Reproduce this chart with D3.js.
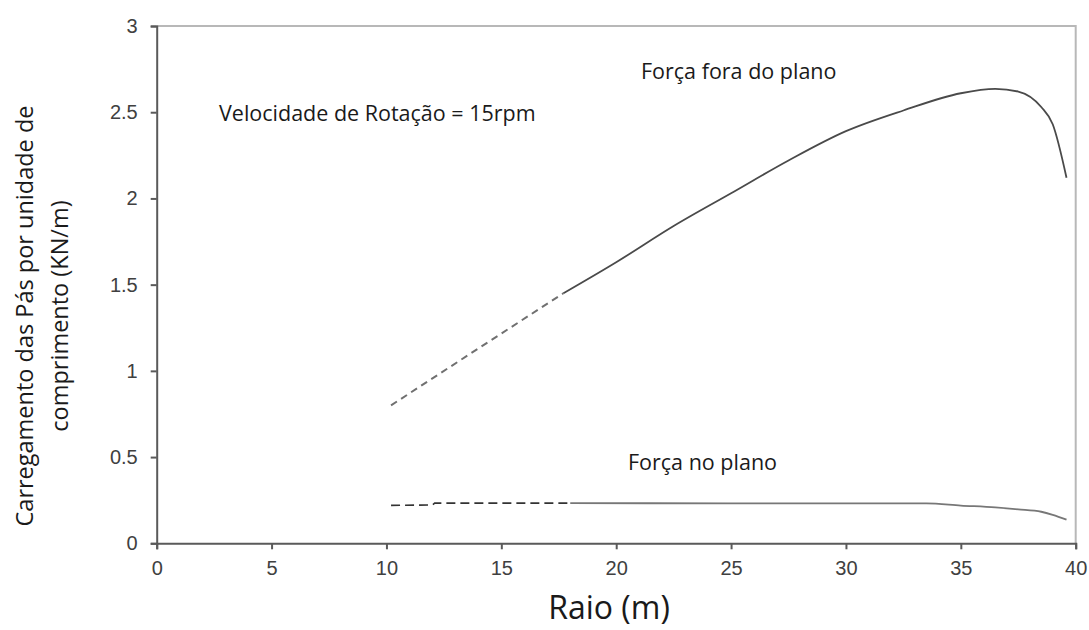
<!DOCTYPE html>
<html>
<head>
<meta charset="utf-8">
<script src="https://cdn.jsdelivr.net/npm/d3@7"></script>
<style>
  body { margin: 0; background: #fff; }
  svg { display: block; }
</style>
</head>
<body>
<div id="chart"></div>
<script>
// raio (m) / carregamento (KN/m)
var foraDashX = [10.2, 14, 17.7];
var foraDashY = [0.80, 1.13, 1.45];
var foraX = [17.7, 20, 22.5, 25, 27.5, 30, 32.5, 35, 36.5, 37.5, 38.5, 39, 39.6];
var foraY = [1.45, 1.63, 1.84, 2.03, 2.22, 2.39, 2.51, 2.61, 2.635, 2.62, 2.53, 2.43, 2.12];

var noDashX = [10.2, 12.0, 12.1, 18];
var noDashY = [0.22, 0.222, 0.233, 0.233];
var noX = [18, 25, 30, 33.5, 35, 36.5, 37.5, 38.5, 39, 39.6];
var noY = [0.233, 0.232, 0.232, 0.231, 0.219, 0.208, 0.197, 0.183, 0.165, 0.137];

var xTicks = [0, 5, 10, 15, 20, 25, 30, 35, 40];
var yTicks = [0, 0.5, 1, 1.5, 2, 2.5, 3];

var W = 1089, H = 630;
var mLeft = 156.7, mRight = 1075.7, mTop = 26, mBottom = 543.3;

var svg = d3.select("#chart").append("svg")
    .attr("width", W).attr("height", H)

var x = d3.scaleLinear().domain([0, 40]).range([mLeft, mRight]);
var y = d3.scaleLinear().domain([0, 3]).range([mBottom, mTop]);

function pts(xs, ys) { return xs.map(function (v, i) { return [v, ys[i]]; }); }

// top and right frame
svg.append("path")
    .attr("d", "M" + mLeft + "," + mTop + "H" + mRight + "V" + mBottom)
    .attr("fill", "none").attr("stroke", "#b8b8b8").attr("stroke-width", 2);

// axes
var xAxis = svg.append("g")
    .attr("transform", "translate(0," + mBottom + ")")
    .call(d3.axisBottom(x).tickValues(xTicks).tickSize(6).tickPadding(12).tickFormat(d3.format("")));
var yAxis = svg.append("g")
    .attr("transform", "translate(" + mLeft + ",0)")
    .call(d3.axisLeft(y).tickValues(yTicks).tickSize(6).tickPadding(13).tickFormat(d3.format("")));

[xAxis, yAxis].forEach(function (g) {
  g.select(".domain").attr("stroke", "#5a5a5a").attr("stroke-width", 2);
  g.selectAll(".tick line").attr("stroke", "#5a5a5a").attr("stroke-width", 2);
  g.selectAll(".tick text")
    .attr("fill", "#404040")
    .style("font-family", "'Liberation Sans', Arial, sans-serif")
    .style("font-size", "20px");
});

var line = d3.line().x(function (d) { return x(d[0]); }).y(function (d) { return y(d[1]); });
var smooth = d3.line().curve(d3.curveMonotoneX)
    .x(function (d) { return x(d[0]); }).y(function (d) { return y(d[1]); });

svg.append("path").attr("d", line(pts(foraDashX, foraDashY)))
    .attr("fill", "none").attr("stroke", "#707070").attr("stroke-width", 2)
    .attr("stroke-dasharray", "7,5");
svg.append("path").attr("d", smooth(pts(foraX, foraY)))
    .attr("fill", "none").attr("stroke", "#4a4a4a").attr("stroke-width", 1.8);

svg.append("path").attr("d", line(pts(noDashX, noDashY)))
    .attr("fill", "none").attr("stroke", "#333").attr("stroke-width", 1.6)
    .attr("stroke-dasharray", "9,5");
svg.append("path").attr("d", smooth(pts(noX, noY)))
    .attr("fill", "none").attr("stroke", "#777").attr("stroke-width", 1.8);

// annotations
var ann = [
  { t: "Velocidade de Rotação = 15rpm", x: 219, y: 121 },
  { t: "Força fora do plano", x: 641, y: 79 },
  { t: "Força no plano", x: 628, y: 470 }
];
svg.selectAll("text.ann").data(ann).enter().append("text")
    .attr("class", "ann")
    .attr("x", function (d) { return d.x; })
    .attr("y", function (d) { return d.y; })
    .attr("fill", "#1a1a1a")
    .style("font-family", "'Open Sans', sans-serif")
    .style("font-size", "21.5px")
    .text(function (d) { return d.t; });

svg.append("text")
    .attr("x", 609).attr("y", 619)
    .attr("text-anchor", "middle")
    .attr("fill", "#1a1a1a")
    .style("font-family", "'Open Sans', sans-serif")
    .style("font-size", "32px")
    .text("Raio (m)");

var yt = svg.append("text")
    .attr("transform", "translate(0,316) rotate(-90)")
    .attr("text-anchor", "middle")
    .attr("fill", "#1a1a1a")
    .style("font-family", "'Open Sans', sans-serif")
    .style("font-size", "23.5px");
yt.append("tspan").attr("x", 0).attr("y", 33).text("Carregamento das Pás por unidade de");
yt.append("tspan").attr("x", 0).attr("y", 68).text("comprimento (KN/m)");
</script>
</body>
</html>
